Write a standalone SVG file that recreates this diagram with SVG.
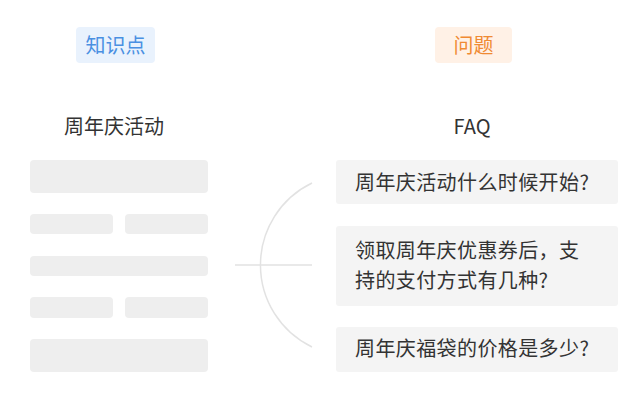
<svg xmlns="http://www.w3.org/2000/svg" width="640" height="414" viewBox="0 0 640 414">
<style>
text{font-family:"Noto Sans CJK SC","Noto Sans",sans-serif;}
.title{font-size:20px;fill:#333;text-anchor:middle;}
.q{font-size:20px;fill:#333;letter-spacing:0.4px;}
.bar{fill:#eeeeee;}
.qbox{fill:#f4f4f4;}
.conn{fill:none;stroke:#e2e2e2;stroke-width:1.5;}
</style>
<rect width="640" height="414" fill="#ffffff"/>
<g id="badge-knowledge">
<rect x="76" y="27" width="79" height="36" rx="4" fill="#e9f2fd"/>
<text x="115.5" y="53" font-size="20" fill="#4a90e2" text-anchor="middle">知识点</text>
</g>
<g id="badge-question">
<rect x="435" y="27" width="77" height="36" rx="4" fill="#fff1e6"/>
<text x="473.5" y="53" font-size="20" fill="#f08a33" text-anchor="middle">问题</text>
</g>
<g id="knowledge">
<text class="title" x="114" y="134">周年庆活动</text>
<rect class="bar" x="30" y="160" width="178" height="33" rx="4"/>
<rect class="bar" x="30" y="214" width="83" height="20" rx="4"/>
<rect class="bar" x="125" y="214" width="83" height="20" rx="4"/>
<rect class="bar" x="30" y="256" width="178" height="20" rx="4"/>
<rect class="bar" x="30" y="297" width="83" height="21" rx="4"/>
<rect class="bar" x="125" y="297" width="83" height="21" rx="4"/>
<rect class="bar" x="30" y="339" width="178" height="33" rx="4"/>
</g>
<g id="faq-title">
<text x="472" y="134" font-size="20" fill="#333" text-anchor="middle" font-family="Liberation Sans, Arial, sans-serif">FAQ</text>
</g>
<g id="connectors">
<path class="conn" d="M312,183 A91,91 0 0 0 312,347"/>
<line class="conn" x1="235" y1="265" x2="312" y2="265"/>
</g>
<g id="q1">
<rect class="qbox" x="336" y="160" width="282" height="44" rx="3"/>
<text class="q" x="355" y="190">周年庆活动什么时候开始?</text>
</g>
<g id="q2">
<rect class="qbox" x="336" y="226" width="282" height="80" rx="3"/>
<text class="q" x="355" y="258">领取周年庆优惠券后，支</text>
<text class="q" x="355" y="288">持的支付方式有几种?</text>
</g>
<g id="q3">
<rect class="qbox" x="336" y="327" width="282" height="45" rx="3"/>
<text class="q" x="355" y="356">周年庆福袋的价格是多少?</text>
</g>
</svg>
